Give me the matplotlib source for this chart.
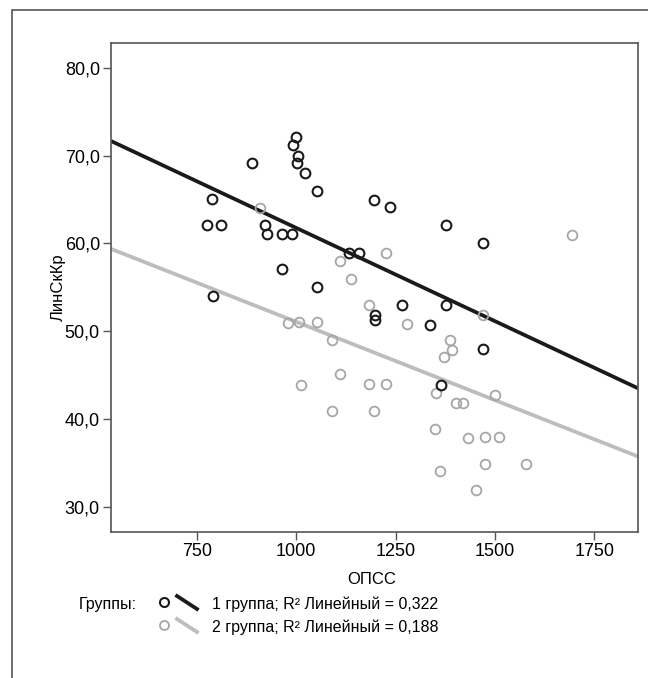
import numpy as np
import matplotlib
matplotlib.use("Agg")
import matplotlib.pyplot as plt
from matplotlib.patches import Rectangle
from matplotlib.lines import Line2D

plt.rcParams['font.family'] = ['Liberation Sans', 'DejaVu Sans']

# Group 1 (black)
g1_x = [999, 992, 1004, 1003, 1021, 890, 1053, 787, 775, 811, 921, 926, 963, 989,
        1133, 1158, 963, 1053, 790, 1196, 1237, 1376, 1469, 1267, 1376, 1197, 1197,
        1336, 1469, 1364]
g1_y = [72.1, 71.2, 70.0, 69.2, 68.0, 69.2, 66.0, 65.1, 62.1, 62.1, 62.1, 61.1, 61.1, 61.1,
        58.9, 58.9, 57.1, 55.0, 54.0, 65.0, 64.1, 62.1, 60.1, 53.0, 53.0, 51.8, 51.3,
        50.7, 48.0, 43.9]

# Group 2 (grey)
g2_x = [909, 1109, 1225, 1138, 1184, 1693, 1469, 979, 1008, 1053, 1279, 1089, 1388,
        1393, 1371, 1110, 1013, 1184, 1225, 1352, 1401, 1420, 1499, 1089, 1196, 1348,
        1431, 1474, 1511, 1474, 1577, 1361, 1452]
g2_y = [64.0, 58.0, 58.9, 55.9, 53.0, 61.0, 51.8, 50.9, 51.0, 51.0, 50.8, 49.0, 49.0,
        47.8, 47.1, 45.1, 43.9, 44.0, 44.0, 42.9, 41.8, 41.8, 42.7, 40.9, 40.9, 38.8,
        37.8, 37.9, 37.9, 34.8, 34.8, 34.0, 31.9]

# linear fits as shown in the chart (slope, intercept)
fit_slope = [-0.02126, -0.01785]
fit_intercept = [83.03, 68.91]

labels = ['1 группа; R\u00b2 Линейный = 0,322', '2 группа; R\u00b2 Линейный = 0,188']
xticks = [750, 1000, 1250, 1500, 1750]
yticks = [30, 40, 50, 60, 70, 80]

c1 = '#1a1a1a'
c2 = '#a6a6a6'
c2line = '#bdbdbd'
spine = '#555555'

W, H = 648, 678
fig = plt.figure(figsize=(W / 100, H / 100), dpi=100)
ax = fig.add_axes([111 / W, 1 - 532 / H, (638 - 111) / W, (532 - 43) / H])

xlim = (534, 1860)
ax.set_xlim(*xlim)
ax.set_ylim(27.1, 82.85)

# regression lines
xx = np.array(xlim)
for k, b, col in zip(fit_slope, fit_intercept, [c1, c2line]):
    ax.plot(xx, k * xx + b, color=col, lw=2.7, solid_capstyle='butt', zorder=2)

ax.plot(g2_x, g2_y, 'o', ms=7, mfc='none', mec=c2, mew=1.3, zorder=3)
ax.plot(g1_x, g1_y, 'o', ms=7, mfc='none', mec=c1, mew=1.5, zorder=4)

ax.set_xticks(xticks)
ax.set_yticks(yticks)
ax.set_yticklabels([f'{v:.1f}'.replace('.', ',') for v in yticks])
ax.tick_params(direction='out', length=6, width=1, color=spine, labelsize=13, pad=2)
for s in ax.spines.values():
    s.set_color(spine)
    s.set_linewidth(1.2)

ax.set_xlabel('ОПСС', fontsize=12)
ax.xaxis.set_label_coords(0.495, -0.082)
ax.set_ylabel('ЛинСкКр', fontsize=12)
ax.yaxis.set_label_coords(-0.085, 0.5)

# outer frame
fig.add_artist(Rectangle((11.5 / W, -0.2), 1.5, 1.2 - 10 / H, transform=fig.transFigure,
                         fill=False, edgecolor=spine, lw=1.2))

# legend
fig.text(79 / W, 1 - 604 / H, 'Группы:', fontsize=11.5, va='center', ha='left')
rows = [(604, c1, c1, 1.5), (627, c2, c2line, 1.3)]
for (yy, mc, lc, mw), lab in zip(rows, labels):
    fig.add_artist(Line2D([164 / W], [1 - (yy - 2) / H], marker='o', ms=6.5, mfc='none',
                          mec=mc, mew=mw, transform=fig.transFigure))
    fig.add_artist(Line2D([177 / W, 197 / W], [1 - (yy - 8) / H, 1 - (yy + 5) / H],
                          color=lc, lw=2.7, transform=fig.transFigure))
    fig.text(212 / W, 1 - yy / H, lab, fontsize=11.5, va='center', ha='left')

fig.savefig('out.png', dpi=100)
